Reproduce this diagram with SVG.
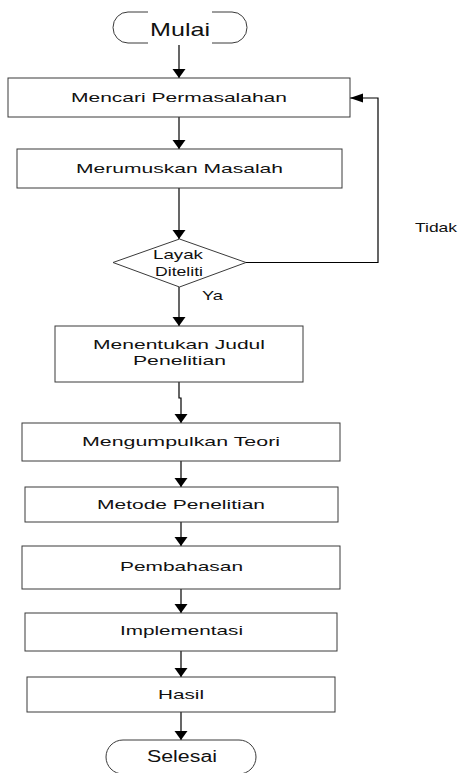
<svg xmlns="http://www.w3.org/2000/svg" width="464" height="773" viewBox="0 0 464 773">
<style>
.box{fill:#fff;stroke:#3a3a3a;stroke-width:1}
.t{font-family:"Liberation Sans",Arial,sans-serif;font-size:13.5px;fill:#111}
.c{fill:none;stroke:#000;stroke-width:1.2}
</style>
<defs>
<marker id="aDown" markerUnits="userSpaceOnUse" markerWidth="14" markerHeight="10" refX="6.5" refY="9" orient="0" overflow="visible">
<path d="M0,0 L13,0 L6.5,9 Z" fill="#000"/>
</marker>
<marker id="aLeft" markerUnits="userSpaceOnUse" markerWidth="14" markerHeight="10" refX="0" refY="4.5" orient="0" overflow="visible">
<path d="M13,0 L13,9 L0,4.5 Z" fill="#000"/>
</marker>
</defs>
<rect width="464" height="773" fill="#fff"/>
<g id="connectors">
<path class="c" d="M179,43 V78" marker-end="url(#aDown)"/>
<path class="c" d="M179,117 V149" marker-end="url(#aDown)"/>
<path class="c" d="M179,188 V239" marker-end="url(#aDown)"/>
<path class="c" d="M179,287 V326" marker-end="url(#aDown)"/>
<path class="c" d="M246,262.5 H378 V98 H350" marker-end="url(#aLeft)"/>
<path class="c" d="M179,382 V398 H181 V423" marker-end="url(#aDown)"/>
<path class="c" d="M181,461 V487" marker-end="url(#aDown)"/>
<path class="c" d="M181,522 V546" marker-end="url(#aDown)"/>
<path class="c" d="M181,589 V613" marker-end="url(#aDown)"/>
<path class="c" d="M181,651 V677" marker-end="url(#aDown)"/>
<path class="c" d="M181,712 V740" marker-end="url(#aDown)"/>
<text class="t" x="415" y="232" textLength="42" lengthAdjust="spacingAndGlyphs" font-size="13">Tidak</text>
<text class="t" x="202" y="300" textLength="21" lengthAdjust="spacingAndGlyphs" font-size="13">Ya</text>
</g>
<g id="mulai">
<path class="box" d="M128,12 H232 A15,15.5 0 0 1 232,43 H128 A15,15.5 0 0 1 128,12 Z"/>
<rect x="148" y="10" width="64" height="35" fill="#fff"/>
<text class="t" x="150" y="36" textLength="60" lengthAdjust="spacingAndGlyphs" style="font-size:19px">Mulai</text>
</g>
<g id="mencari">
<rect class="box" x="8" y="78" width="342" height="39"/>
<text class="t" x="71" y="102" textLength="216" lengthAdjust="spacingAndGlyphs">Mencari Permasalahan</text>
</g>
<g id="merumuskan">
<rect class="box" x="17" y="149" width="325" height="39"/>
<text class="t" x="76" y="173" textLength="207" lengthAdjust="spacingAndGlyphs">Merumuskan Masalah</text>
</g>
<g id="layak">
<path class="box" d="M179.5,239 L246,262.5 L179.5,287 L113,262.5 Z"/>
<text class="t" x="153" y="259" textLength="50" lengthAdjust="spacingAndGlyphs" style="font-size:13px">Layak</text>
<text class="t" x="155" y="276" textLength="48" lengthAdjust="spacingAndGlyphs" style="font-size:13px">Diteliti</text>
</g>
<g id="menentukan">
<rect class="box" x="55" y="326" width="248" height="56"/>
<text class="t" x="93" y="349" textLength="172" lengthAdjust="spacingAndGlyphs">Menentukan Judul</text>
<text class="t" x="133" y="365" textLength="93" lengthAdjust="spacingAndGlyphs">Penelitian</text>
</g>
<g id="mengumpulkan">
<rect class="box" x="22" y="423" width="318" height="38"/>
<text class="t" x="82" y="446" textLength="198" lengthAdjust="spacingAndGlyphs">Mengumpulkan Teori</text>
</g>
<g id="metode">
<rect class="box" x="25" y="487" width="313" height="35"/>
<text class="t" x="97" y="509" textLength="168" lengthAdjust="spacingAndGlyphs">Metode Penelitian</text>
</g>
<g id="pembahasan">
<rect class="box" x="22" y="546" width="318" height="43"/>
<text class="t" x="120" y="571" textLength="123" lengthAdjust="spacingAndGlyphs">Pembahasan</text>
</g>
<g id="implementasi">
<rect class="box" x="25" y="613" width="312" height="38"/>
<text class="t" x="120" y="635" textLength="123" lengthAdjust="spacingAndGlyphs">Implementasi</text>
</g>
<g id="hasil">
<rect class="box" x="27" y="677" width="308" height="35"/>
<text class="t" x="158" y="699" textLength="46" lengthAdjust="spacingAndGlyphs">Hasil</text>
</g>
<g id="selesai">
<path class="box" d="M123,740 H239 A17,17 0 0 1 239,774 H123 A17,17 0 0 1 123,740 Z"/>
<text class="t" x="147" y="762" textLength="70" lengthAdjust="spacingAndGlyphs" style="font-size:16px">Selesai</text>
</g>
</svg>
